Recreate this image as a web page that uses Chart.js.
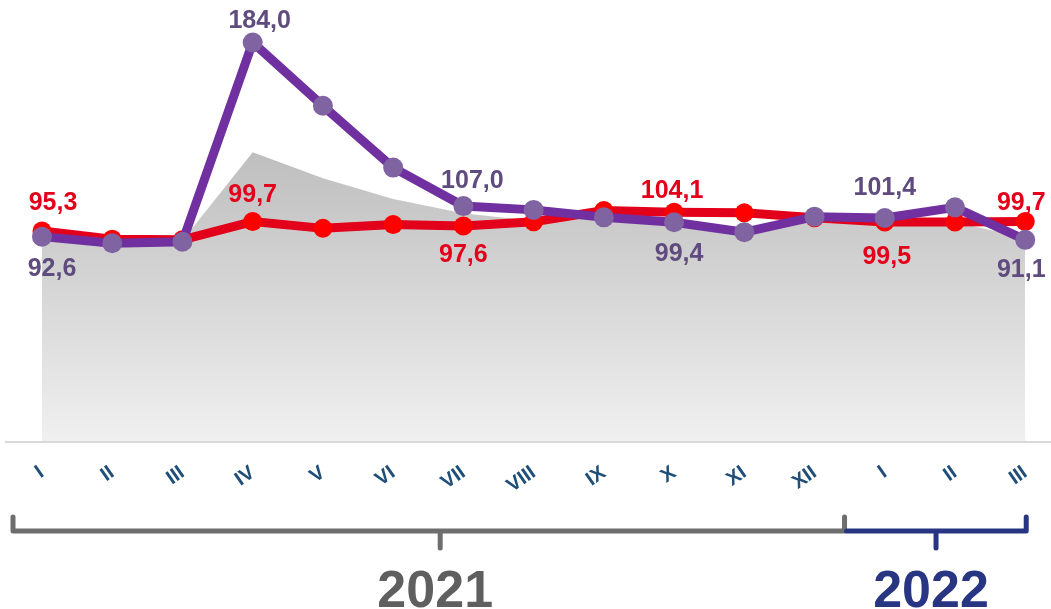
<!DOCTYPE html>
<html>
<head>
<meta charset="utf-8">
<script src="https://cdn.jsdelivr.net/npm/chart.js@4"></script>
<style>
  html, body { margin: 0; padding: 0; background: #fff; }
  #wrap { width: 1051px; height: 609px; }
</style>
</head>
<body>
<div id="wrap"><canvas id="chart" width="1051" height="609"></canvas></div>
<script>
// month ticks, two years
const months = ['I', 'II', 'III', 'IV', 'V', 'VI', 'VII', 'VIII', 'IX', 'X', 'XI', 'XII', 'I', 'II', 'III'];
const years = ['2021', '2022'];

// series
const redValues = [95.3, 91.4, 91.1, 99.7, 96.5, 98.3, 97.6, 99.6, 104.9, 104.1, 103.8, 101.5, 99.5, 99.5, 99.7];
const purpleValues = [92.6, 89.5, 90.2, 184.0, 154.2, 125.1, 107.0, 105.2, 101.7, 99.4, 94.7, 102.0, 101.4, 106.4, 91.1];
const greyValues = [94.0, 90.5, 90.8, 132.3, 120.1, 110.3, 103.6, 100.0, 102.0, 99.0, 95.5, 101.0, 100.0, 99.5, 92.0];

// labelled points: index -> [dx, dy] from the marker
const redLabelAt = { 0: [11, -28], 3: [0, -26], 6: [0, 29], 9: [-2, -21], 12: [2, 35], 14: [-4, -18] };
const purpleLabelAt = { 0: [10, 32], 3: [7, -21], 6: [9, -25], 9: [5, 32], 12: [0, -30], 14: [-4, 30] };

const RED_LINE = '#E2001A';
const RED_TEXT = '#E2001A';
const PURPLE_LINE = '#7030A0';
const PURPLE_DOT = '#8064A2';
const PURPLE_TEXT = '#5F4B7E';

const fmt = v => v.toFixed(1).replace('.', ',');

const valueLabels = {
  id: 'valueLabels',
  afterDatasetsDraw(chart) {
    const ctx = chart.ctx;
    ctx.save();
    ctx.font = 'bold 25px "Liberation Sans", Arial, sans-serif';
    ctx.textAlign = 'center';
    ctx.textBaseline = 'middle';
    const sets = [
      { idx: 0, at: purpleLabelAt, color: PURPLE_TEXT, vals: purpleValues },
      { idx: 1, at: redLabelAt, color: RED_TEXT, vals: redValues }
    ];
    sets.forEach(s => {
      const meta = chart.getDatasetMeta(s.idx);
      Object.keys(s.at).forEach(k => {
        const i = +k;
        const pt = meta.data[i];
        const [dx, dy] = s.at[k];
        ctx.fillStyle = s.color;
        ctx.fillText(fmt(s.vals[i]), pt.x + dx, pt.y + dy);
      });
    });
    ctx.restore();
  }
};

const baseLine = {
  id: 'baseLine',
  beforeDatasetsDraw(chart) {
    const ctx = chart.ctx;
    const b = chart.chartArea.bottom + 1;
    ctx.save();
    ctx.strokeStyle = '#D9D9D9';
    ctx.lineWidth = 2;
    ctx.beginPath();
    ctx.moveTo(5, b);
    ctx.lineTo(chart.width, b);
    ctx.stroke();
    ctx.restore();
  }
};

const yearBrackets = {
  id: 'yearBrackets',
  afterDraw(chart) {
    const ctx = chart.ctx;
    const x = chart.scales.x;
    const yLine = 531, yTop = 517, yTick = 548;
    const groups = [
      { left: x.getPixelForValue(0) - 29, right: x.getPixelForValue(11) + 30, mid: x.getPixelForValue(5.67), color: '#6E6E6E', textColor: '#5F5F5F', text: years[0] },
      { left: x.getPixelForValue(11) + 32, right: x.getPixelForValue(14) + 1, mid: x.getPixelForValue(12.73), color: '#283583', textColor: '#283583', text: years[1] }
    ];
    ctx.save();
    ctx.lineWidth = 5;
    ctx.lineJoin = 'round';
    ctx.lineCap = 'round';
    groups.forEach((g, n) => {
      ctx.strokeStyle = g.color;
      ctx.beginPath();
      if (n === 0) {
        ctx.moveTo(g.left, yTop);
        ctx.lineTo(g.left, yLine);
      } else {
        ctx.moveTo(g.left, yLine);
      }
      ctx.lineTo(g.right, yLine);
      ctx.lineTo(g.right, yTop);
      ctx.moveTo(g.mid, yLine);
      ctx.lineTo(g.mid, yTick);
      ctx.stroke();
      ctx.fillStyle = g.textColor;
      ctx.font = 'bold 52px "Liberation Sans", Arial, sans-serif';
      ctx.textAlign = 'center';
      ctx.textBaseline = 'alphabetic';
      ctx.fillText(g.text, g.mid - 5, 607);
    });
    ctx.restore();
  }
};

const ctx = document.getElementById('chart').getContext('2d');
new Chart(ctx, {
  type: 'line',
  data: {
    labels: months,
    datasets: [
      {
        label: 'purple',
        data: purpleValues,
        borderColor: PURPLE_LINE,
        borderWidth: 9,
        pointBackgroundColor: PURPLE_DOT,
        pointBorderWidth: 0,
        pointRadius: 10,
        tension: 0,
        clip: false,
        order: 0
      },
      {
        label: 'red',
        data: redValues,
        borderColor: RED_LINE,
        borderWidth: 9,
        pointBackgroundColor: '#FF0000',
        pointBorderWidth: 0,
        pointRadius: 9.5,
        tension: 0,
        clip: false,
        order: 1
      },
      {
        label: 'grey',
        data: greyValues,
        borderWidth: 0,
        pointRadius: 0,
        fill: 'start',
        tension: 0,
        order: 2,
        backgroundColor: (c) => {
          const area = c.chart.chartArea;
          if (!area) return '#d0d0d0';
          const g = c.chart.ctx.createLinearGradient(0, area.top + 150, 0, area.bottom);
          g.addColorStop(0, '#BEBEBE');
          g.addColorStop(1, '#F0F0F0');
          return g;
        }
      }
    ]
  },
  options: {
    responsive: false,
    animation: false,
    layout: { autoPadding: false, padding: { left: 42, right: 24, top: 0, bottom: 108 } },
    plugins: { legend: { display: false }, tooltip: { enabled: false } },
    scales: {
      x: {
        offset: false,
        grid: { display: false },
        border: { display: false },
        afterFit: (s) => { s.height = 60; },
        ticks: {
          autoSkip: false,
          minRotation: 35,
          maxRotation: 35,
          padding: 12,
          color: '#1F4E79',
          font: { family: '"Liberation Sans", Arial, sans-serif', size: 20, weight: 'bold' }
        }
      },
      y: {
        display: false,
        min: -3.6,
        max: 204
      }
    }
  },
  plugins: [baseLine, valueLabels, yearBrackets]
});
</script>
</body>
</html>
